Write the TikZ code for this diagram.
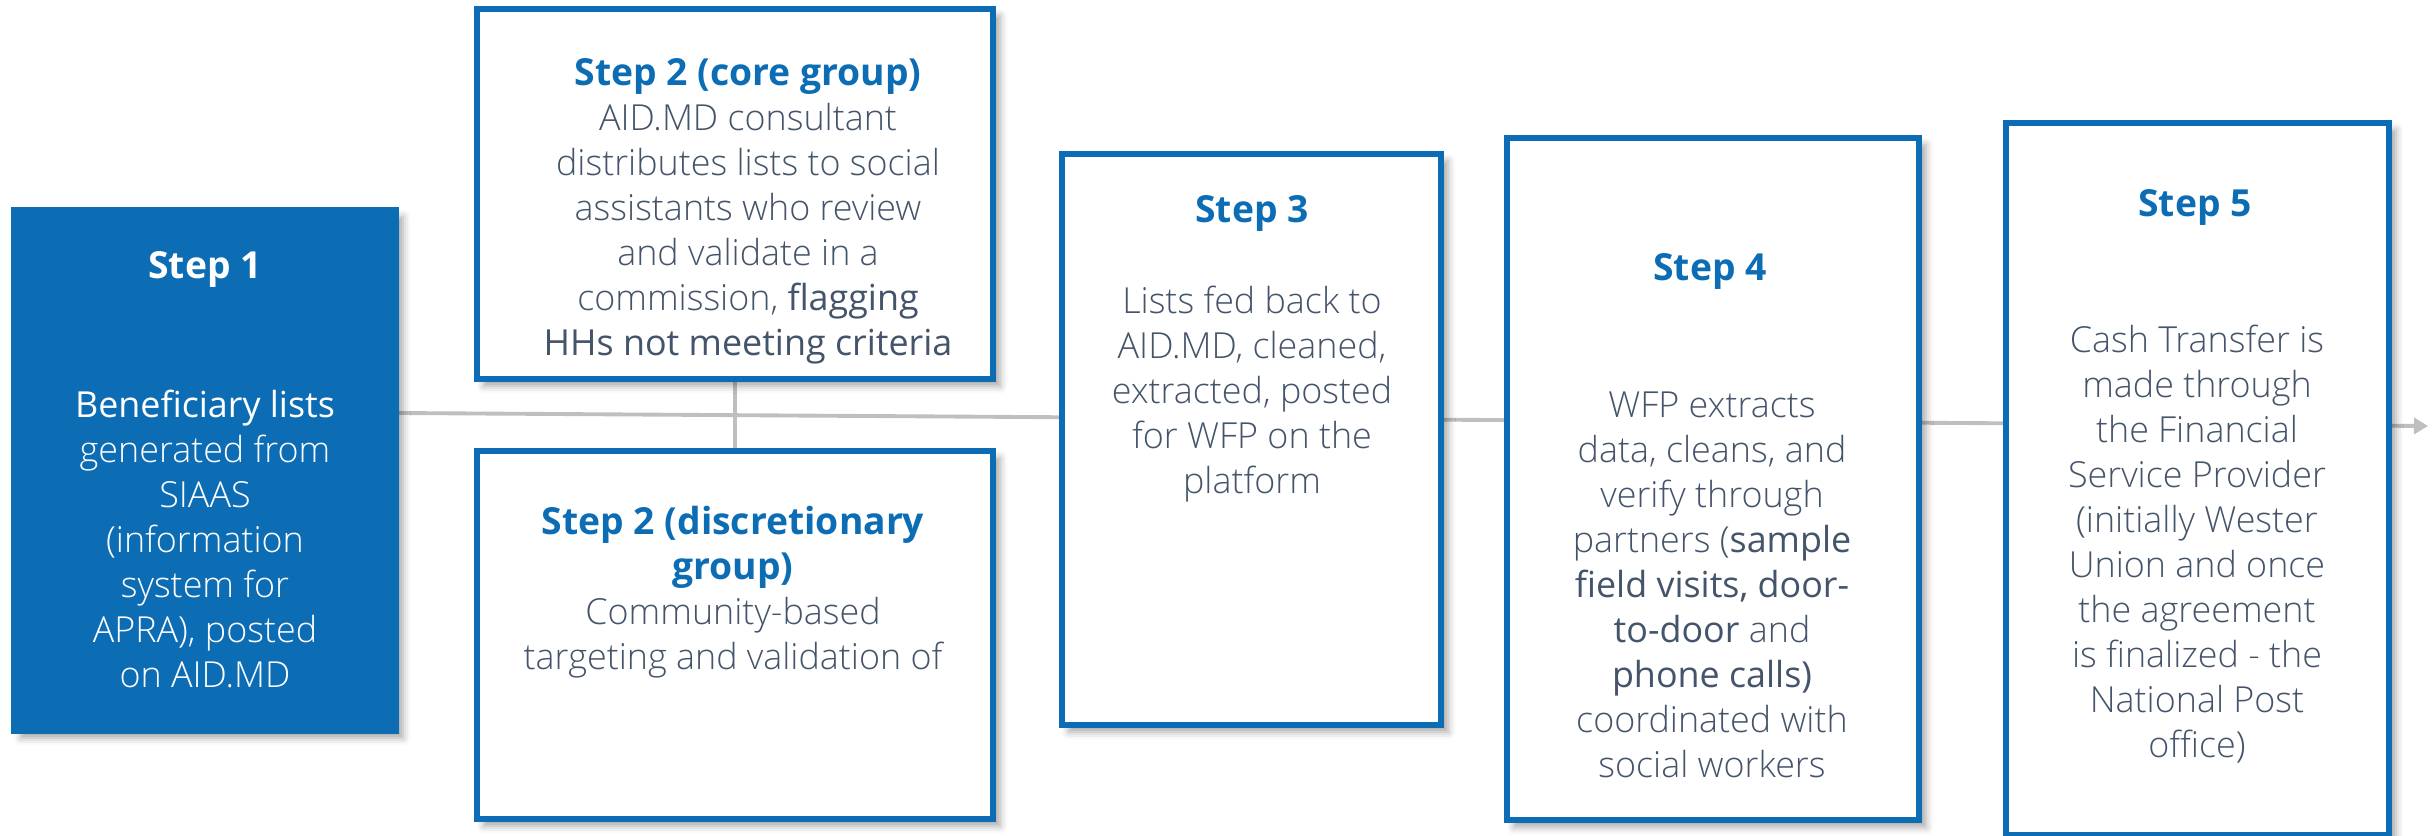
\documentclass[tikz,border=0pt]{standalone}
\usepackage{fontspec}
\setmainfont{Open Sans}
\newfontfamily\lightsans{Open Sans Light}
\usetikzlibrary{arrows.meta,backgrounds,shadows.blur}

\definecolor{stepblue}{HTML}{0C6CB4}
\definecolor{bodygray}{HTML}{44546A}
\definecolor{linegray}{HTML}{BFBFBF}

\newcommand{\hilite}[1]{{\normalfont #1}}
\newcommand{\titletext}[1]{{\normalfont\fontsize{10.6}{12.8}\selectfont\bfseries\color{stepblue}#1}}

\tikzset{
  stepbox/.style={draw=stepblue, line width=1.7pt, fill=white, inner sep=0pt,
    blur shadow={shadow xshift=2pt, shadow yshift=-2pt, shadow blur radius=2pt, shadow opacity=35}},
  steptitle/.style={font=\fontsize{10.6}{12.8}\selectfont\bfseries, text=stepblue, align=center, inner sep=0pt},
  steptext/.style={font=\fontsize{10.2}{12.8}\selectfont\lightsans, text=bodygray, align=center, inner sep=0pt},
  flowline/.style={draw=linegray, line width=1.1pt}
}

\begin{document}
\begin{tikzpicture}[x=0.01cm, y=-0.01cm]
  \useasboundingbox (0,0) rectangle (2435,836);

  % step boxes
  \node[stepbox, fill=stepblue, minimum width=3.82cm, minimum height=5.21cm] (s1) at (205,470.5) {};
  \node[stepbox, minimum width=5.16cm, minimum height=3.70cm] (s2core) at (735,194) {};
  \node[stepbox, minimum width=5.16cm, minimum height=3.68cm] (s2disc) at (735,635) {};
  \node[stepbox, minimum width=3.79cm, minimum height=5.71cm] (s3) at (1251.5,439.5) {};
  \node[stepbox, minimum width=4.12cm, minimum height=6.82cm] (s4) at (1713,479) {};
  \node[stepbox, minimum width=3.83cm, minimum height=7.12cm] (s5) at (2197.5,479) {};
  \coordinate (tip) at (2428,426);

  % connectors behind the boxes
  \begin{scope}[on background layer]
    \draw[flowline, -{Triangle[length=0.14cm, width=0.16cm]}] (s1.east |- 0,413) -- (tip);
    \draw[flowline] (s2core.south) -- (s2disc.north);
  \end{scope}

  % texts
  \node[steptitle, text=white] (t1) at (205,269) {Step 1};
  \node[steptext, text=white] (b1) at (205,539) {\hilite{Beneficiary lists}\\generated from\\SIAAS\\(information\\system for\\APRA), posted\\on AID.MD};

  \node[steptext] (b2core) at (748,211) {\titletext{Step 2 (core group)}\\AID.MD consultant\\distributes lists to social\\assistants who review\\and validate in a\\commission, \hilite{flagging}\\\hilite{HHs not meeting criteria}};
  \node[steptext] (b2disc) at (733,592) {\titletext{Step 2 (discretionary}\\\titletext{group)}\\Community-based\\targeting and validation of};

  \node[steptitle] (t3) at (1252,213) {Step 3};
  \node[steptext] (b3) at (1252,394) {Lists fed back to\\AID.MD, cleaned,\\extracted, posted\\for WFP on the\\platform};

  \node[steptitle] (t4) at (1710,271) {Step 4};
  \node[steptext] (b4) at (1712,585) {WFP extracts\\data, cleans, and\\verify through\\partners (\hilite{sample}\\\hilite{field visits, door-}\\\hilite{to-door} and\\\hilite{phone calls)}\\coordinated with\\social workers};

  \node[steptitle] (t5) at (2195,207) {Step 5};
  \node[steptext] (b5) at (2197,544) {Cash Transfer is\\made through\\the Financial\\Service Provider\\(initially Wester\\Union and once\\the agreement\\is finalized - the\\National Post\\office)};
\end{tikzpicture}
\end{document}
